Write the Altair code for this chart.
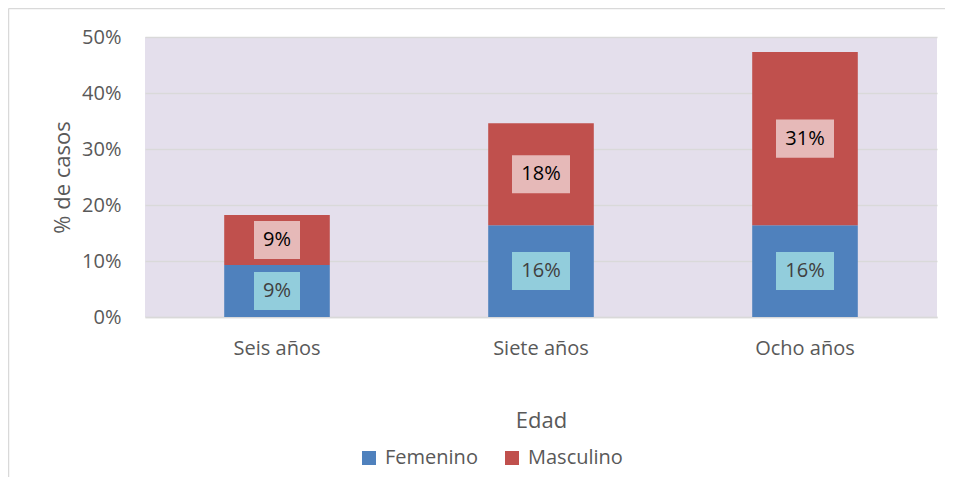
import altair as alt
import pandas as pd

edades = ["Seis años", "Siete años", "Ocho años"]
sexos = ["Femenino", "Masculino"]
femenino = [0.093, 0.164, 0.164]
masculino = [0.089, 0.182, 0.309]

colores = ["#4F81BD", "#C0504D"]
colores_caja = ["#92CDDC", "#E6B9B8"]
colores_texto = ["#404040", "#000000"]

rows = []
for i, e in enumerate(edades):
    base = 0.0
    for j, (s, vals) in enumerate(zip(sexos, [femenino, masculino])):
        v = vals[i]
        lab = f"{round(v * 100):.0f}%"
        rows.append({
            "edad": e, "sexo": s, "orden": j, "valor": v,
            "y0": base, "y1": base + v, "mid": base + v / 2,
            "label": lab,
            "bw": 34 + 12 * (len(lab) - 1),
        })
        base += v
df = pd.DataFrame(rows)
# label box half-height in data units (~19px at 5.6px per 1%)
df["b0"] = df["mid"] - 0.034
df["b1"] = df["mid"] + 0.034

W, H = 792, 280
FONT = "Open Sans"
TXT = "#595959"

xenc = alt.X("edad:N", sort=edades,
             scale=alt.Scale(paddingInner=0.6, paddingOuter=0.3),
             axis=alt.Axis(title="Edad", labelAngle=0, labelFontSize=20, titleFontSize=22,
                           labelPadding=21, titlePadding=52, ticks=False, grid=False,
                           domainColor="#D9D9D9", domainWidth=1.5,
                           labelColor=TXT, titleColor=TXT, titleFontWeight="normal",
                           labelFont=FONT, titleFont=FONT))

yscale = alt.Scale(domain=[0, 0.5], nice=False)

bars = alt.Chart(df).mark_bar().encode(
    x=xenc,
    y=alt.Y("y0:Q", scale=yscale,
            axis=alt.Axis(title="% de casos", format=".0%", values=[0, 0.1, 0.2, 0.3, 0.4, 0.5],
                          labelFontSize=20, titleFontSize=22, labelPadding=24, titlePadding=7,
                          ticks=False, domain=False, grid=True, gridColor="#D9D9D9", gridWidth=1.5,
                          labelColor=TXT, titleColor=TXT, titleFontWeight="normal",
                          labelFont=FONT, titleFont=FONT)),
    y2="y1:Q",
    color=alt.Color("sexo:N", scale=alt.Scale(domain=sexos, range=colores),
                    legend=alt.Legend(title=None, orient="none", direction="horizontal",
                                      legendX=214, legendY=411, symbolType="square",
                                      symbolSize=196, symbolStrokeWidth=0,
                                      labelFontSize=20, labelFont=FONT, labelColor=TXT,
                                      columnPadding=24, labelOffset=6)),
)

boxes = alt.Chart(df).mark_bar().encode(
    x=alt.X("edad:N", sort=edades),
    y=alt.Y("b0:Q", scale=yscale),
    y2="b1:Q",
    size=alt.Size("bw:Q", scale=None, legend=None),
    fill=alt.Fill("sexo:N", scale=alt.Scale(domain=sexos, range=colores_caja), legend=None),
)

texts = alt.Chart(df).mark_text(fontSize=20, font=FONT, baseline="middle").encode(
    x=alt.X("edad:N", sort=edades),
    y=alt.Y("mid:Q", scale=yscale),
    text="label:N",
    fill=alt.Fill("sexo:N", scale=alt.Scale(domain=sexos, range=colores_texto), legend=None),
)

frame_d = pd.DataFrame({"a": [0]})
left_line = alt.Chart(frame_d).mark_rule(color="#D9D9D9", strokeWidth=1.5, clip=False).encode(
    x=alt.value(-136.5), y=alt.value(-28.5), y2=alt.value(H + 300),
)
top_line = alt.Chart(frame_d).mark_rule(color="#D9D9D9", strokeWidth=1.5, clip=False).encode(
    x=alt.value(-136.5), x2=alt.value(W + 300), y=alt.value(-28.5),
)

chart = alt.layer(left_line, top_line, bars, boxes, texts).resolve_scale(fill="independent").properties(
    width=W, height=H,
    autosize=alt.AutoSizeParams(type="none"),
    padding={"left": 137, "top": 29, "right": 8, "bottom": 160},
    background="white",
).configure_view(fill="#E4DFEC", stroke=None)

chart.save("out.html", embed_options={"renderer": "svg", "actions": False})
